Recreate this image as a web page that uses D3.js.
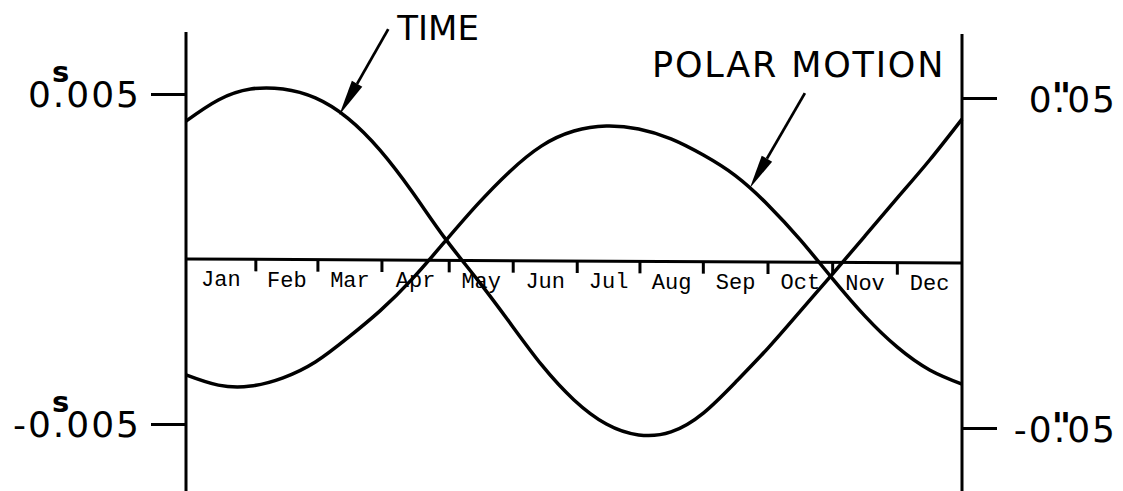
<!DOCTYPE html>
<html>
<head>
<meta charset="utf-8">
<script src="https://cdn.jsdelivr.net/npm/d3@7"></script>
<style>
  html, body { margin: 0; padding: 0; background: #fff; }
  svg { display: block; }
</style>
</head>
<body>
<svg id="chart" width="1123" height="491"></svg>
<script>
// Month names along the zero line and the month boundaries (in months from Jan 1)
const months = ["Jan", "Feb", "Mar", "Apr", "May", "Jun", "Jul", "Aug", "Sep", "Oct", "Nov", "Dec"];
const monthEdges = [1.08, 2.04, 3.03, 4.07, 5.06, 6.05, 7.02, 8.0, 9.0, 10.0, 11.0];

// Sample positions through the year (months)
const sampleMonths = [0, 0.5, 1, 1.5, 2, 2.5, 3, 3.5, 4, 4.5, 5, 5.5, 6,
                      6.5, 7, 7.5, 8, 8.5, 9, 9.5, 10, 10.5, 11, 11.5, 12];

// Seasonal variation of time (seconds)
const timeSeconds = [0.00418, 0.00482, 0.00515, 0.00515, 0.00488, 0.00427, 0.00330, 0.00203,
                     0.00064, -0.00061, -0.00191, -0.00321, -0.00427, -0.00500, -0.00533,
                     -0.00524, -0.00467, -0.00373, -0.00270, -0.00158, -0.00045, 0.00070,
                     0.00185, 0.00300, 0.00424];

// Seasonal polar motion (arc seconds)
const polarArcsec = [-0.0339, -0.0370, -0.0373, -0.0348, -0.0300, -0.0227, -0.0145, -0.0048,
                     0.0064, 0.0176, 0.0276, 0.0355, 0.0400, 0.0415, 0.0406, 0.0376,
                     0.0327, 0.0264, 0.0176, 0.0070, -0.0048, -0.0161, -0.0255, -0.0324, -0.0367];

// Axis ticks
const timeTicks = [0.005, -0.005];
const timeTickLabels = ["0.005", "-0.005"];
const polarTicks = [0.05, -0.05];
const polarTickLabels = ["0.05", "-0.05"];

// Arrow annotations: point on the curve the arrow touches
const timeNote = { label: "TIME", month: 2.37, value: 0.00436 };
const polarNote = { label: "POLAR MOTION", month: 8.72, value: 0.0227 };

const W = 1123, H = 491;
const svg = d3.select("#chart");

const x = d3.scaleLinear().domain([0, 12]).range([186, 962]);
const yL = d3.scaleLinear().domain([-0.005, 0.005]).range([424, 94]);
const yR = d3.scaleLinear().domain([-0.05, 0.05]).range([428, 98]);

const ink = "#000";
const labelFont = "'DejaVu Sans', 'Liberation Sans', sans-serif";

// Zero line (drawn from the left zero to the right zero)
const zeroAt = m => yL(0) + (yR(0) - yL(0)) * (m / 12);
svg.append("line")
  .attr("x1", x(0)).attr("y1", zeroAt(0))
  .attr("x2", x(12)).attr("y2", zeroAt(12))
  .attr("stroke", ink).attr("stroke-width", 3);

// Month boundary ticks hanging below the zero line
svg.append("g").selectAll("line").data(monthEdges).join("line")
  .attr("x1", d => x(d)).attr("x2", d => x(d))
  .attr("y1", d => zeroAt(d)).attr("y2", d => zeroAt(d) + 12)
  .attr("stroke", ink).attr("stroke-width", 3);

// Month names centred in each month
const bounds = [0, ...monthEdges, 12];
svg.append("g").selectAll("text").data(months).join("text")
  .attr("x", (d, i) => x((bounds[i] + bounds[i + 1]) / 2))
  .attr("y", (d, i) => zeroAt((bounds[i] + bounds[i + 1]) / 2) + 27)
  .attr("text-anchor", "middle")
  .attr("font-family", "'Liberation Mono', 'Courier New', monospace")
  .attr("font-size", 22)
  .attr("fill", ink)
  .text(d => d);

// Vertical axes
[x(0), x(12)].forEach((xx, i) => {
  svg.append("line")
    .attr("x1", xx).attr("x2", xx)
    .attr("y1", i === 0 ? 32 : 34).attr("y2", H)
    .attr("stroke", ink).attr("stroke-width", 3);
});

// Left axis ticks (seconds)
const leftAxis = svg.append("g").attr("transform", `translate(${x(0)},0)`)
  .call(d3.axisLeft(yL).tickValues(timeTicks).tickSize(35).tickFormat(""));
leftAxis.select(".domain").remove();
leftAxis.selectAll(".tick line").attr("stroke", ink).attr("stroke-width", 3);

// Right axis ticks (arc seconds)
const rightAxis = svg.append("g").attr("transform", `translate(${x(12)},0)`)
  .call(d3.axisRight(yR).tickValues(polarTicks).tickSize(35).tickFormat(""));
rightAxis.select(".domain").remove();
rightAxis.selectAll(".tick line").attr("stroke", ink).attr("stroke-width", 3);

// Tick label with the unit mark set above the decimal point (one text element)
function unitLabel(str, xPos, yPos, mark, markSize, markWeight, markRise) {
  const i = str.indexOf(".");
  const t = svg.append("text")
    .attr("x", xPos).attr("y", yPos)
    .attr("font-family", labelFont)
    .attr("font-size", 36)
    .attr("fill", ink);
  t.append("tspan").attr("letter-spacing", 2).text(str.slice(0, i + 1));
  const m = t.append("tspan")
    .attr("font-size", markSize).attr("font-weight", markWeight)
    .attr("dy", -markRise).text(mark);
  const tail = t.append("tspan").attr("letter-spacing", 2).attr("dy", markRise).text(str.slice(i + 1));

  const node = t.node();
  const a = node.getStartPositionOfChar(i);
  const b = node.getEndPositionOfChar(i);
  const dotCenter = (a.x + b.x) / 2 + 1;
  const headEnd = b.x;
  const mw = m.node().getComputedTextLength();
  const dxMark = dotCenter - mw / 2 - headEnd;
  m.attr("dx", dxMark);
  tail.attr("dx", -(dxMark + mw));
  // right-align the whole label on xPos
  const fullEnd = node.getEndPositionOfChar(str.length).x;
  t.attr("x", xPos - (fullEnd - xPos));
}

timeTicks.forEach((v, i) => {
  unitLabel(timeTickLabels[i], 141, yL(v) + 13, "s", 29, "bold", 25);
});
polarTicks.forEach((v, i) => {
  unitLabel(polarTickLabels[i], 1117, yR(v) + 14, "\"", 38, "bold", 3);
});

// Curves
const lineTime = d3.line().x((d, i) => x(sampleMonths[i])).y(d => yL(d)).curve(d3.curveNatural);
const linePolar = d3.line().x((d, i) => x(sampleMonths[i])).y(d => yR(d)).curve(d3.curveNatural);

svg.append("path").datum(timeSeconds)
  .attr("d", lineTime).attr("fill", "none")
  .attr("stroke", ink).attr("stroke-width", 3.5).attr("stroke-linejoin", "round");
svg.append("path").datum(polarArcsec)
  .attr("d", linePolar).attr("fill", "none")
  .attr("stroke", ink).attr("stroke-width", 3.5).attr("stroke-linejoin", "round");

// Arrow with a long filled head
function arrow(tipX, tipY, tailX, tailY, headLen, headHalf) {
  const dx = tailX - tipX, dy = tailY - tipY;
  const len = Math.hypot(dx, dy);
  const ux = dx / len, uy = dy / len;
  const bx = tipX + ux * headLen, by = tipY + uy * headLen;
  svg.append("line")
    .attr("x1", tailX).attr("y1", tailY).attr("x2", bx).attr("y2", by)
    .attr("stroke", ink).attr("stroke-width", 2.8);
  svg.append("path")
    .attr("d", `M${tipX},${tipY}L${bx - uy * headHalf},${by + ux * headHalf}` +
               `L${bx + uy * headHalf},${by - ux * headHalf}Z`)
    .attr("fill", ink);
}

const tTip = [x(timeNote.month), yL(timeNote.value)];
arrow(tTip[0], tTip[1], tTip[0] + 49, tTip[1] - 86, 36, 6);
svg.append("text")
  .attr("x", tTip[0] + 58).attr("y", tTip[1] - 75)
  .attr("font-family", labelFont).attr("font-size", 34).attr("fill", ink)
  .text(timeNote.label);

const pTip = [x(polarNote.month), yR(polarNote.value)];
arrow(pTip[0], pTip[1], pTip[0] + 55, pTip[1] - 95, 34, 6);
svg.append("text")
  .attr("x", 652).attr("y", 77)
  .attr("font-family", labelFont).attr("font-size", 35).attr("letter-spacing", 1.8).attr("fill", ink)
  .text(polarNote.label);
</script>
</body>
</html>
